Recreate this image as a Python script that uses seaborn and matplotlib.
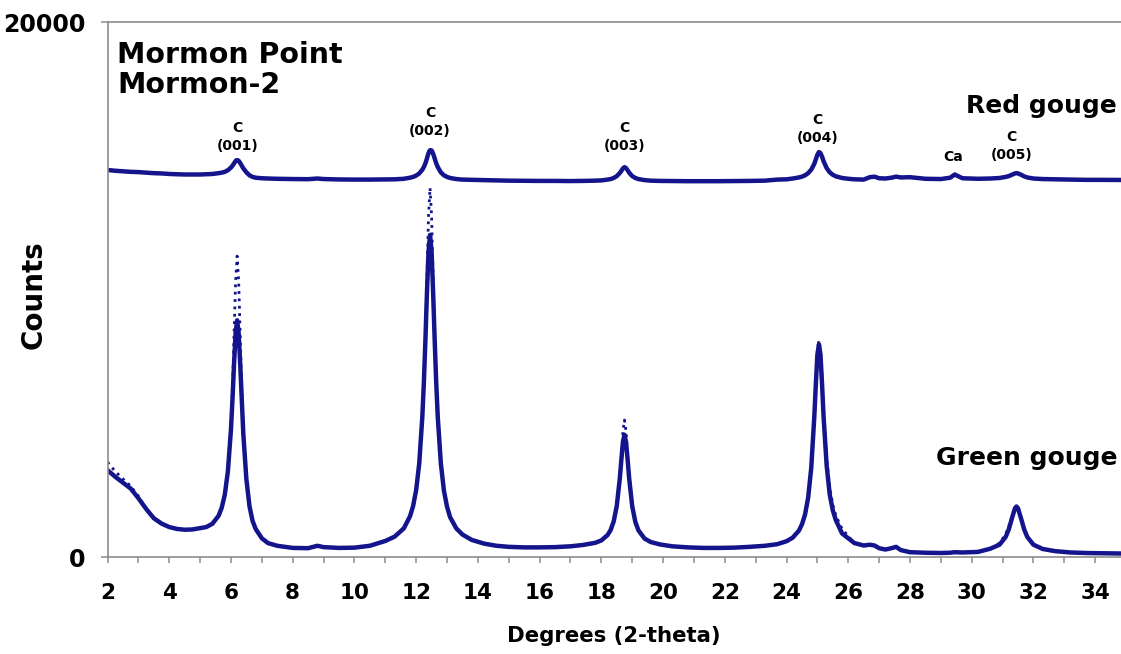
import matplotlib
matplotlib.use("Agg")
import matplotlib.pyplot as plt
import numpy as np
import pandas as pd
import seaborn as sns
from matplotlib.ticker import MultipleLocator

# Diffraction angle (degrees 2-theta), shared by all four scans
two_theta = [
    2.0, 2.25, 2.5, 2.75, 3.0, 3.25, 3.5, 3.75, 4.0, 4.25, 4.5, 4.75, 5.0,
    5.2, 5.4, 5.6, 5.7, 5.8, 5.9, 6.0, 6.05, 6.1, 6.15, 6.2, 6.25, 6.3, 6.35, 6.4, 6.5, 6.6, 6.7, 6.8, 7.0, 7.2, 7.5,
    8.0, 8.5, 8.8, 9.0, 9.5, 10.0, 10.5, 11.0, 11.3, 11.6,
    11.8, 11.9, 12.0, 12.1, 12.2, 12.25, 12.3, 12.35, 12.4, 12.45, 12.5, 12.55, 12.6, 12.65, 12.7, 12.8, 12.9, 13.0, 13.1, 13.3, 13.5, 13.8,
    14.2, 14.6, 15.0, 15.5, 16.0, 16.5, 17.0, 17.4, 17.8,
    18.0, 18.2, 18.3, 18.4, 18.5, 18.6, 18.65, 18.7, 18.75, 18.8, 18.85, 18.9, 19.0, 19.1, 19.2, 19.4, 19.6, 19.9,
    20.3, 20.8, 21.3, 21.8, 22.3, 22.8, 23.3, 23.7,
    24.0, 24.2, 24.4, 24.5, 24.6, 24.7, 24.8, 24.9, 24.95, 25.0, 25.05, 25.1, 25.15, 25.2, 25.3, 25.4, 25.5, 25.6, 25.8, 26.0, 26.2, 26.5,
    26.7, 26.85, 27.0, 27.2, 27.4, 27.55, 27.7, 28.0, 28.5, 29.0, 29.3, 29.45, 29.7, 30.2, 30.6,
    30.9, 31.1, 31.2, 31.3, 31.4, 31.45, 31.5, 31.6, 31.7, 31.8, 32.0, 32.3,
    32.7, 33.2, 33.7, 34.2, 34.7, 35.0,
]

# Green gouge, main scan (solid) and repeat scan (dotted)
green_gouge = [
    3250, 3000, 2780, 2560, 2200, 1800, 1450, 1250, 1120, 1050, 1020, 1030, 1080,
    1120, 1245, 1545, 1840, 2330, 3200, 4765, 5910, 7220, 8375, 8850, 8365, 7195, 5870, 4600, 2900, 1900, 1350, 1050, 700, 520, 420,
    340, 330, 420, 370, 340, 350, 420, 600, 760, 1070,
    1520, 1900, 2500, 3500, 5240, 6520, 8120, 9890, 11410, 12040, 11410, 9890, 8120, 6520, 5240, 3500, 2480, 1880, 1490, 1070, 840, 640,
    500, 420, 380, 360, 360, 370, 400, 450, 530,
    620, 820, 1005, 1330, 1910, 2960, 3660, 4300, 4570, 4300, 3660, 2960, 1900, 1320, 1000, 690, 560, 470,
    400, 360, 340, 340, 350, 380, 420, 480,
    590, 724, 986, 1220, 1590, 2214, 3323, 5250, 6480, 7570, 7950, 7570, 6480, 5250, 3420, 2330, 1740, 1370, 880, 700, 520, 430,
    460, 430, 330, 280, 330, 380, 260, 180, 160, 150, 160, 180, 170, 190, 310,
    460, 750, 1030, 1435, 1820, 1890, 1820, 1435, 1030, 750, 460, 300,
    220, 170, 150, 140, 130, 130,
]
green_gouge_repeat = [
    3550, 3200, 2920, 2650, 2280, 1800, 1450, 1250, 1120, 1050, 1020, 1030, 1080,
    1120, 1245, 1545, 1840, 2330, 3200, 4790, 6300, 8280, 10310, 11250, 10290, 8250, 6250, 4730, 2900, 1900, 1350, 1050, 700, 520, 420,
    340, 330, 420, 370, 340, 350, 420, 600, 760, 1070,
    1520, 1900, 2500, 3500, 5240, 6520, 8120, 10365, 12735, 13800, 12735, 10365, 8120, 6520, 5240, 3500, 2480, 1880, 1490, 1070, 840, 640,
    500, 420, 380, 360, 360, 370, 400, 450, 530,
    620, 820, 1005, 1330, 1910, 2960, 3790, 4700, 5120, 4700, 3790, 2960, 1900, 1320, 1000, 690, 560, 470,
    400, 360, 340, 340, 350, 380, 420, 480,
    590, 724, 986, 1220, 1590, 2214, 3323, 5250, 6480, 7650, 8100, 7700, 6700, 5550, 3700, 2600, 1950, 1550, 1050, 780, 520, 430,
    460, 430, 330, 280, 330, 380, 260, 180, 160, 150, 160, 180, 170, 190, 310,
    520, 850, 1150, 1500, 1820, 1890, 1820, 1435, 1030, 750, 460, 300,
    220, 170, 150, 140, 130, 130,
]

# Red gouge counts; the trace is stacked above the green one by RED_OFFSET
RED_OFFSET = 13500
red_gouge = [
    970, 940, 920, 900, 890, 870, 850, 840, 820, 810, 800, 800, 800,
    810, 820, 850, 870, 900, 960, 1060, 1130, 1220, 1300, 1340, 1310, 1230, 1130, 1030, 880, 770, 710, 680, 660, 650, 640,
    630, 625, 650, 630, 615, 610, 610, 615, 620, 640,
    680, 710, 760, 840, 980, 1080, 1220, 1400, 1600, 1710, 1700, 1580, 1400, 1220, 1080, 880, 770, 710, 670, 630, 610, 600,
    590, 580, 570, 565, 560, 560, 555, 560, 570,
    580, 610, 630, 670, 740, 860, 940, 1030, 1075, 1040, 960, 870, 740, 670, 630, 590, 570, 560,
    555, 550, 550, 550, 555, 560, 570, 610,
    620, 650, 690, 720, 770, 850, 980, 1200, 1370, 1540, 1640, 1600, 1470, 1300, 1040, 880, 790, 730, 670, 640, 620, 610,
    700, 720, 660, 650, 680, 720, 690, 700, 640, 630, 680, 800, 660, 640, 650,
    670, 710, 740, 790, 840, 850, 840, 790, 730, 690, 650, 630,
    620, 610, 600, 600, 595, 595,
]
red_gouge_repeat = [
    970, 940, 920, 900, 890, 870, 850, 840, 820, 810, 800, 800, 800,
    810, 820, 850, 870, 900, 960, 1060, 1130, 1220, 1340, 1420, 1350, 1230, 1130, 1030, 880, 770, 710, 680, 660, 650, 640,
    630, 625, 650, 630, 615, 610, 610, 615, 620, 640,
    680, 710, 760, 840, 980, 1080, 1220, 1400, 1650, 1760, 1730, 1580, 1400, 1220, 1080, 880, 770, 710, 670, 630, 610, 600,
    590, 580, 570, 565, 560, 560, 555, 560, 570,
    580, 610, 630, 670, 740, 860, 940, 1030, 1075, 1040, 960, 870, 740, 670, 630, 590, 570, 560,
    555, 550, 550, 550, 555, 560, 570, 610,
    620, 650, 690, 720, 770, 850, 980, 1200, 1370, 1540, 1640, 1600, 1470, 1300, 1040, 880, 790, 730, 670, 640, 620, 610,
    700, 720, 660, 650, 680, 720, 690, 700, 640, 630, 680, 800, 660, 640, 650,
    670, 710, 740, 790, 840, 850, 840, 790, 730, 690, 650, 630,
    620, 610, 600, 600, 595, 595,
]

# Peak labels: phase, reflection, x position, y of each text line
peak_phase = ["C", "C", "C", "C", "Ca", "C"]
peak_hkl = ["(001)", "(002)", "(003)", "(004)", "", "(005)"]
peak_x = [6.2, 12.45, 18.75, 25.0, 29.4, 31.3]
peak_phase_y = [16040, 16600, 16040, 16340, 14950, 15700]
peak_hkl_y = [15360, 15920, 15360, 15660, 0, 15030]

x_ticks = list(range(2, 35, 2))
y_ticks = [0, 20000]

NAVY = "#14148c"
AXIS_GREY = "#8c8c8c"

sns.set_style("white")
plt.rcParams["font.family"] = ["DejaVu Sans"]
plt.rcParams["text.color"] = "black"
plt.rcParams["axes.labelcolor"] = "black"
plt.rcParams["xtick.color"] = "black"
plt.rcParams["ytick.color"] = "black"

df = pd.DataFrame({
    "two_theta": two_theta,
    "green": green_gouge,
    "green_rep": green_gouge_repeat,
    "red": np.array(red_gouge) + RED_OFFSET,
    "red_rep": np.array(red_gouge_repeat) + RED_OFFSET,
})

fig = plt.figure(figsize=(11.21, 6.54), dpi=100)
ax = fig.add_axes([0.0959, 0.1483, 0.9086, 0.8180])

for col, style, lw in [("green_rep", ":", 2.0), ("red_rep", ":", 2.0),
                       ("green", "-", 3.2), ("red", "-", 3.2)]:
    sns.lineplot(data=df, x="two_theta", y=col, ax=ax, color=NAVY,
                 linestyle=style, linewidth=lw, sort=False, estimator=None)

ax.set_xlim(2, 35)
ax.set_ylim(0, 20000)
ax.xaxis.set_major_locator(MultipleLocator(2))
ax.xaxis.set_minor_locator(MultipleLocator(1))
ax.set_xticks(x_ticks)
ax.set_xticklabels([str(t) for t in x_ticks], fontsize=15.5, fontweight="bold")
ax.set_yticks(y_ticks)
ax.set_yticklabels([str(t) for t in y_ticks], fontsize=17, fontweight="bold")
ax.tick_params(axis="x", which="both", direction="out", length=4.5, width=1.1,
               color=AXIS_GREY, labelcolor="black", pad=14, bottom=True)
ax.tick_params(axis="y", which="major", direction="out", length=5, width=1.1,
               color=AXIS_GREY, labelcolor="black", pad=11, left=True)

for side in ["left", "bottom", "top"]:
    ax.spines[side].set_color(AXIS_GREY)
    ax.spines[side].set_linewidth(1.2)
ax.spines["right"].set_visible(False)

ax.set_xlabel("Degrees (2-theta)", fontsize=15.3, fontweight="bold", va="center",
              color="black")
ax.xaxis.set_label_coords(0.497, -0.148)
ax.set_ylabel("Counts", fontsize=20, fontweight="bold", va="center", color="black")
ax.yaxis.set_label_coords(-0.073, 0.49)

ax.text(2.31, 18470, "Mormon Point", fontsize=20.5, fontweight="bold",
        va="baseline", color="black")
ax.text(2.31, 17350, "Mormon-2", fontsize=20.5, fontweight="bold",
        va="baseline", color="black")
ax.text(34.71, 16600, "Red gouge", fontsize=18, fontweight="bold",
        ha="right", va="baseline", color="black")
ax.text(34.71, 3440, "Green gouge", fontsize=18, fontweight="bold",
        ha="right", va="baseline", color="black")

for phase, hkl, px, py_phase, py_hkl in zip(peak_phase, peak_hkl, peak_x,
                                           peak_phase_y, peak_hkl_y):
    ax.text(px, py_phase, phase, fontsize=10, fontweight="bold",
            ha="center", va="center", color="black")
    if hkl:
        ax.text(px, py_hkl, hkl, fontsize=10, fontweight="bold",
                ha="center", va="center", color="black")

fig.savefig("out.png", dpi=100)
